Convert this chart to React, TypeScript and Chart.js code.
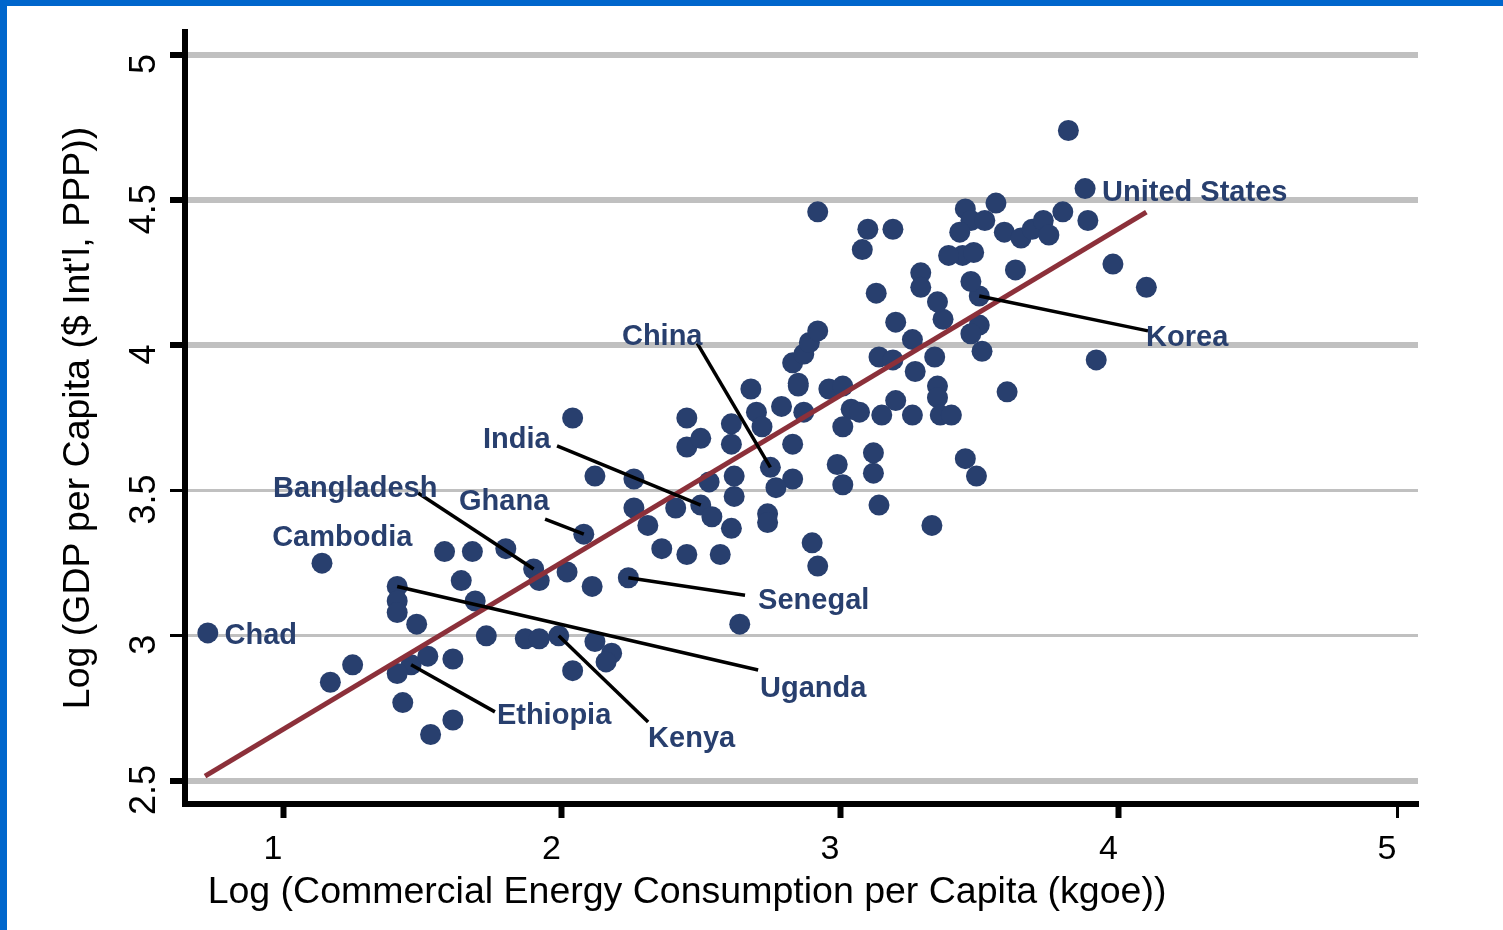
import React, { useEffect, useRef } from "react";
import { Chart, registerables } from "chart.js";

Chart.register(...registerables);

// Labelled countries come first in the value arrays, in this order.
const countryNames = [
  "Chad", "Cambodia", "Uganda", "Ethiopia", "Bangladesh", "Kenya",
  "Ghana", "Senegal", "India", "China", "Korea", "United States",
];

// Log commercial energy consumption per capita (kgoe)
const energyLog = [
  0.73, 1.14, 1.41, 1.46, 1.90, 1.99, 2.08, 2.24, 2.50, 2.75, 3.50, 3.88,
  1.17, 1.25, 1.41, 1.41, 1.48, 1.58, 1.68, 1.80, 1.64, 1.69, 1.73, 1.87,
  1.92, 1.92, 2.02, 2.11, 2.12, 2.18, 2.16, 2.04, 1.52, 1.61, 1.41, 1.43,
  1.61, 1.53, 2.04, 2.12, 2.26, 2.26, 2.45, 2.45, 2.50, 2.61, 2.61, 2.68,
  2.85, 2.79, 2.70, 2.72, 2.87, 2.83, 2.83, 2.77, 2.62, 2.62, 2.53, 2.54,
  2.41, 2.31, 2.36, 2.45, 2.57, 2.61, 2.74, 2.74, 2.90, 2.92, 2.64, 2.99,
  3.01, 3.12, 3.12, 3.14, 3.33, 3.45, 3.49, 2.83, 2.87, 2.89, 2.92, 2.85,
  2.96, 3.01, 3.04, 3.01, 3.07, 3.15, 3.20, 3.26, 3.35, 3.35, 3.36, 3.40,
  3.51, 3.60, 3.92, 3.20, 3.26, 3.34, 3.14, 3.19, 3.27, 3.37, 3.50, 3.47,
  3.35, 3.29, 3.29, 3.13, 3.47, 3.63, 3.44, 3.48, 3.39, 3.10, 3.19, 3.08,
  2.92, 3.45, 3.47, 3.43, 3.52, 3.59, 3.65, 3.69, 3.73, 3.75, 3.56, 3.80,
  3.89, 3.82, 3.98, 4.10,
];

// Log GDP per capita ($ Int'l, PPP)
const gdpLog = [
  3.01, 3.25, 3.17, 2.90, 3.23, 3.00, 3.35, 3.20, 3.45, 3.58, 4.17, 4.54,
  2.84, 2.90, 3.12, 3.08, 3.04, 3.29, 3.29, 3.30, 3.19, 3.12, 3.00, 2.99,
  2.99, 3.19, 3.22, 3.17, 2.98, 2.94, 2.91, 2.88, 2.93, 2.92, 2.87, 2.77,
  2.71, 2.66, 3.75, 3.55, 3.54, 3.44, 3.75, 3.65, 3.68, 3.73, 3.66, 3.85,
  3.86, 3.79, 3.77, 3.72, 3.77, 3.66, 3.54, 3.51, 3.55, 3.48, 3.53, 3.41,
  3.44, 3.38, 3.30, 3.28, 3.28, 3.37, 3.42, 3.39, 3.32, 3.24, 3.04, 3.59,
  3.52, 3.63, 3.56, 3.45, 3.38, 3.61, 3.55, 3.94, 3.97, 4.01, 4.05, 3.87,
  3.85, 3.86, 3.78, 3.72, 3.77, 3.76, 3.81, 3.76, 3.86, 3.82, 3.76, 3.76,
  3.98, 3.84, 3.95, 4.08, 4.02, 3.96, 3.96, 3.95, 3.91, 4.09, 4.07, 4.04,
  4.15, 4.25, 4.20, 4.18, 4.22, 4.26, 4.31, 4.32, 4.31, 4.40, 4.40, 4.33,
  4.46, 4.47, 4.43, 4.39, 4.43, 4.39, 4.37, 4.40, 4.43, 4.38, 4.49, 4.46,
  4.43, 4.74, 4.28, 4.20,
];

// Fitted line end points
const fitEnergy = [0.72, 4.10];
const fitGdp = [2.517, 4.459];

const xTickValues = [1, 2, 3, 4, 5];
const yTickValues = [2.5, 3, 3.5, 4, 4.5, 5];
const yTickLabels = ["2.5", "3", "3.5", "4", "4.5", "5"];

const xTitle = "Log (Commercial Energy Consumption per Capita (kgoe))";
const yTitle = "Log (GDP per Capita ($ Int'l, PPP))";

// Where each country name sits (left edge, vertical centre) and where its
// leader line starts, in axis units.
const callouts = [
  { name: "Chad", label: [0.79, 3.0] },
  { name: "Cambodia", label: [0.961, 3.337] },
  { name: "Uganda", label: [2.713, 2.817], from: [2.706, 2.882] },
  { name: "Ethiopia", label: [1.768, 2.724], from: [1.761, 2.738] },
  { name: "Bangladesh", label: [0.964, 3.506], from: [1.485, 3.492] },
  { name: "Kenya", label: [2.311, 2.645], from: [2.311, 2.703] },
  { name: "Ghana", label: [1.632, 3.461], from: [1.941, 3.402] },
  { name: "Senegal", label: [2.706, 3.12], from: [2.659, 3.14] },
  { name: "India", label: [1.718, 3.674], from: [1.984, 3.654] },
  { name: "China", label: [2.217, 4.029], from: [2.487, 4.008] },
  { name: "Korea", label: [4.099, 4.025], from: [4.106, 4.05] },
  { name: "United States", label: [3.941, 4.525] },
];

const FONT = '"Liberation Sans", Arial, Helvetica, sans-serif';
const NAVY = "#283f6e";
const MAROON = "#8c303a";
const GRID = "#c0c0c0";
const FRAME = "#0066cc";

const thickY = (v: number) => v !== 3 && v !== 3.5;

const annotationPlugin = {
  id: "countryCallouts",
  afterDatasetsDraw(chart: any) {
    const { ctx } = chart;
    const xs = chart.scales.x;
    const ys = chart.scales.y;
    ctx.save();
    ctx.strokeStyle = "#000";
    ctx.lineWidth = 3.5;
    callouts.forEach((c) => {
      if (!c.from) return;
      const i = countryNames.indexOf(c.name);
      ctx.beginPath();
      ctx.moveTo(xs.getPixelForValue(c.from[0]), ys.getPixelForValue(c.from[1]));
      ctx.lineTo(xs.getPixelForValue(energyLog[i]), ys.getPixelForValue(gdpLog[i]));
      ctx.stroke();
    });
    ctx.fillStyle = NAVY;
    ctx.font = `bold 29px ${FONT}`;
    ctx.textAlign = "left";
    ctx.textBaseline = "middle";
    callouts.forEach((c) => {
      ctx.fillText(c.name, xs.getPixelForValue(c.label[0]), ys.getPixelForValue(c.label[1]));
    });
    ctx.restore();
  },
  afterDraw(chart: any) {
    const { ctx } = chart;
    const ys = chart.scales.y;
    ctx.save();
    ctx.fillStyle = "#000";
    ctx.textAlign = "center";
    ctx.textBaseline = "middle";
    // vertical tick labels on the y axis
    ctx.font = `36px ${FONT}`;
    yTickValues.forEach((v, i) => {
      ctx.save();
      ctx.translate(145, ys.getPixelForValue(v) + 9);
      ctx.rotate(-Math.PI / 2);
      ctx.fillText(yTickLabels[i], 0, 0);
      ctx.restore();
    });
    // x axis title, set a little left of the plot centre
    ctx.font = `37.5px ${FONT}`;
    ctx.fillText(xTitle, 687, 893);
    ctx.restore();
  },
};

export default function App() {
  const canvasRef = useRef<HTMLCanvasElement | null>(null);

  useEffect(() => {
    document.body.style.margin = "0";
    const canvas = canvasRef.current;
    if (!canvas) return;

    const chart = new Chart(canvas, {
      type: "scatter",
      data: {
        datasets: [
          {
            type: "line",
            data: fitEnergy.map((v, i) => ({ x: v, y: fitGdp[i] })),
            borderColor: MAROON,
            borderWidth: 5,
            pointRadius: 0,
            showLine: true,
            fill: false,
          } as any,
          {
            data: energyLog.map((v, i) => ({ x: v, y: gdpLog[i] })),
            backgroundColor: NAVY,
            borderWidth: 0,
            pointRadius: 10.5,
            pointHoverRadius: 10.5,
          },
        ],
      },
      options: {
        responsive: true,
        maintainAspectRatio: false,
        animation: false,
        events: [],
        layout: { padding: { top: 32, right: 85, left: 0, bottom: 0 } },
        plugins: { legend: { display: false }, tooltip: { enabled: false } },
        scales: {
          x: {
            type: "linear",
            min: 0.6481,
            max: 5.0754,
            afterBuildTicks: (s: any) => {
              s.ticks = xTickValues.map((v) => ({ value: v }));
            },
            afterFit: (s: any) => {
              s.height = 126;
            },
            border: { display: true, color: "#000", width: 6 },
            grid: {
              drawOnChartArea: false,
              drawTicks: true,
              tickLength: 14,
              tickColor: "#000",
              tickWidth: (c: any) => (c.tick && c.tick.value === 5 ? 3 : 6),
            },
            ticks: {
              color: "#000",
              font: { family: FONT, size: 34 },
              padding: 11,
              labelOffset: -10,
              maxRotation: 0,
              autoSkip: false,
            },
            title: { display: false, text: xTitle },
          },
          y: {
            type: "linear",
            min: 2.4208,
            max: 5.0792,
            afterBuildTicks: (s: any) => {
              s.ticks = yTickValues.map((v) => ({ value: v }));
            },
            afterFit: (s: any) => {
              s.width = 185;
            },
            border: { display: true, color: "#000", width: 6 },
            grid: {
              color: GRID,
              lineWidth: (c: any) => (c.tick && thickY(c.tick.value) ? 6 : 3),
              drawTicks: true,
              tickLength: 15,
              tickColor: "#000",
              tickWidth: (c: any) => (c.tick && thickY(c.tick.value) ? 6 : 3),
            },
            ticks: { display: false },
            title: {
              display: true,
              text: yTitle,
              color: "#000",
              font: { family: FONT, size: 37.5 },
              padding: { top: 56, bottom: 0 },
            },
          },
        },
      },
      plugins: [annotationPlugin],
    });

    return () => chart.destroy();
  }, []);

  return (
    <div style={{ position: "relative", width: 1503, height: 930, background: "#fff", overflow: "hidden" }}>
      <canvas ref={canvasRef} style={{ position: "absolute", left: 0, top: 0, width: 1503, height: 930 }} />
      <div style={{ position: "absolute", left: 0, top: 0, width: 7, height: 930, background: FRAME }} />
      <div style={{ position: "absolute", left: 0, top: 0, width: 1503, height: 6, background: FRAME }} />
    </div>
  );
}
